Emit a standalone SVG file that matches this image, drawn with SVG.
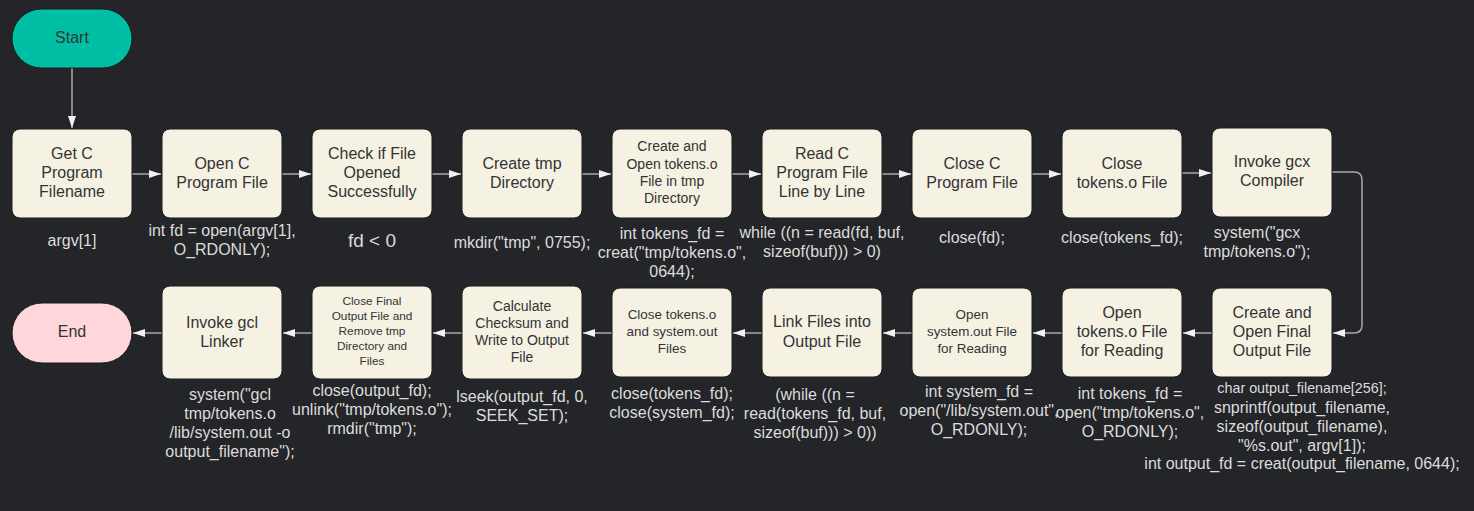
<svg xmlns="http://www.w3.org/2000/svg" width="1474" height="511" viewBox="0 0 1474 511">
<defs>
<marker id="arr" viewBox="0 0 12 8" refX="12" refY="4" markerWidth="12" markerHeight="8" markerUnits="userSpaceOnUse" orient="auto">
<path d="M0,0 L12,4 L0,8 Z" fill="#f2f2f2"/>
</marker>
<style>
text{font-family:"Liberation Sans",Arial,sans-serif;text-anchor:middle;dominant-baseline:central}
.box{fill:#f5f2e3;stroke:#1c1c1c;stroke-width:1}
.t{fill:#333333;font-size:16px}
.t14{fill:#333333;font-size:14px}
.t13{fill:#333333;font-size:13.4px}
.t12{fill:#333333;font-size:11.8px}
.lb{fill:#dcdcdc;font-size:16px}
.edge{fill:none;stroke:#a8a8a8;stroke-width:1.5;marker-end:url(#arr)}
</style>
</defs>
<rect width="1474" height="511" fill="#242528"/>

<g id="connectors">
<path class="edge" d="M72,68 V128"/>
<path class="edge" d="M132,174 H161"/>
<path class="edge" d="M282,174 H311"/>
<path class="edge" d="M432,174 H461"/>
<path class="edge" d="M582,174 H611"/>
<path class="edge" d="M732,174 H761"/>
<path class="edge" d="M882,174 H911"/>
<path class="edge" d="M1032,174 H1061"/>
<path class="edge" d="M1182,173 H1211"/>
<path class="edge" d="M1332,172 H1354 Q1362,172 1362,180 V325 Q1362,333 1354,333 H1333"/>
<path class="edge" d="M1212,333 H1183"/>
<path class="edge" d="M1062,333 H1033"/>
<path class="edge" d="M912,333 H883"/>
<path class="edge" d="M762,333 H733"/>
<path class="edge" d="M612,333 H583"/>
<path class="edge" d="M462,333 H433"/>
<path class="edge" d="M312,333 H283"/>
<path class="edge" d="M162,333 H133"/>
</g>

<g id="start">
<rect x="12" y="9" width="120" height="59" rx="29.5" fill="#00bfa5" stroke="#1c1c1c"/>
<text class="t" x="72" y="37">Start</text>
</g>

<g id="get-filename">
<rect class="box" x="12" y="129" width="120" height="89" rx="8"/>
<text class="t" x="72" y="153">Get C</text>
<text class="t" x="72" y="172">Program</text>
<text class="t" x="72" y="191">Filename</text>
<text class="lb" x="72" y="240">argv[1]</text>
</g>

<g id="open-c-file">
<rect class="box" x="162" y="129" width="120" height="89" rx="8"/>
<text class="t" x="222" y="163">Open C</text>
<text class="t" x="222" y="182">Program File</text>
<text class="lb" x="222" y="230">int fd = open(argv[1],</text>
<text class="lb" x="222" y="249">O_RDONLY);</text>
</g>

<g id="check-opened">
<rect class="box" x="312" y="129" width="120" height="89" rx="8"/>
<text class="t" x="372" y="153">Check if File</text>
<text class="t" x="372" y="172">Opened</text>
<text class="t" x="372" y="191">Successfully</text>
<text class="lb" x="372" y="240" style="font-size:19px">fd &lt; 0</text>
</g>

<g id="create-tmp">
<rect class="box" x="462" y="129" width="120" height="89" rx="8"/>
<text class="t" x="522" y="163">Create tmp</text>
<text class="t" x="522" y="182">Directory</text>
<text class="lb" x="522" y="242">mkdir("tmp", 0755);</text>
</g>

<g id="create-tokens">
<rect class="box" x="612" y="129" width="120" height="89" rx="8"/>
<text class="t14" x="672" y="146">Create and</text>
<text class="t14" x="672" y="164">Open tokens.o</text>
<text class="t14" x="672" y="181">File in tmp</text>
<text class="t14" x="672" y="198">Directory</text>
<text class="lb" x="672" y="233">int tokens_fd =</text>
<text class="lb" x="672" y="252">creat("tmp/tokens.o",</text>
<text class="lb" x="672" y="271">0644);</text>
</g>

<g id="read-c-file">
<rect class="box" x="762" y="129" width="120" height="89" rx="8"/>
<text class="t" x="822" y="153">Read C</text>
<text class="t" x="822" y="172">Program File</text>
<text class="t" x="822" y="191">Line by Line</text>
<text class="lb" x="822" y="232">while ((n = read(fd, buf,</text>
<text class="lb" x="822" y="251">sizeof(buf))) &gt; 0)</text>
</g>

<g id="close-c-file">
<rect class="box" x="912" y="129" width="120" height="89" rx="8"/>
<text class="t" x="972" y="163">Close C</text>
<text class="t" x="972" y="182">Program File</text>
<text class="lb" x="972" y="237">close(fd);</text>
</g>

<g id="close-tokens">
<rect class="box" x="1062" y="129" width="120" height="89" rx="8"/>
<text class="t" x="1122" y="163">Close</text>
<text class="t" x="1122" y="182">tokens.o File</text>
<text class="lb" x="1122" y="237">close(tokens_fd);</text>
</g>

<g id="invoke-gcx">
<rect class="box" x="1212" y="128" width="120" height="89" rx="8"/>
<text class="t" x="1272" y="161">Invoke gcx</text>
<text class="t" x="1272" y="180">Compiler</text>
<text class="lb" x="1257" y="232">system("gcx</text>
<text class="lb" x="1257" y="251">tmp/tokens.o");</text>
</g>

<g id="create-final">
<rect class="box" x="1212" y="288" width="120" height="89" rx="8"/>
<text class="t" x="1272" y="312">Create and</text>
<text class="t" x="1272" y="331">Open Final</text>
<text class="t" x="1272" y="350">Output File</text>
<text class="lb" x="1302" y="388" style="font-size:14.3px">char output_filename[256];</text>
<text class="lb" x="1302" y="407">snprintf(output_filename,</text>
<text class="lb" x="1302" y="426">sizeof(output_filename),</text>
<text class="lb" x="1302" y="445">"%s.out", argv[1]);</text>
<text class="lb" x="1302" y="463">int output_fd = creat(output_filename, 0644);</text>
</g>

<g id="open-tokens-read">
<rect class="box" x="1062" y="288" width="120" height="89" rx="8"/>
<text class="t" x="1122" y="312">Open</text>
<text class="t" x="1122" y="331">tokens.o File</text>
<text class="t" x="1122" y="350">for Reading</text>
<text class="lb" x="1130" y="393">int tokens_fd =</text>
<text class="lb" x="1130" y="412">open("tmp/tokens.o",</text>
<text class="lb" x="1130" y="431">O_RDONLY);</text>
</g>

<g id="open-system-read">
<rect class="box" x="912" y="288" width="120" height="89" rx="8"/>
<text class="t13" x="972" y="314">Open</text>
<text class="t13" x="972" y="331">system.out File</text>
<text class="t13" x="972" y="348">for Reading</text>
<text class="lb" x="979" y="391">int system_fd =</text>
<text class="lb" x="979" y="410">open("/lib/system.out",</text>
<text class="lb" x="979" y="429">O_RDONLY);</text>
</g>

<g id="link-files">
<rect class="box" x="762" y="288" width="120" height="89" rx="8"/>
<text class="t" x="822" y="321">Link Files into</text>
<text class="t" x="822" y="341">Output File</text>
<text class="lb" x="815" y="394">(while ((n =</text>
<text class="lb" x="815" y="413">read(tokens_fd, buf,</text>
<text class="lb" x="815" y="432">sizeof(buf))) &gt; 0))</text>
</g>

<g id="close-both">
<rect class="box" x="612" y="288" width="120" height="89" rx="8"/>
<text class="t13" x="672" y="314">Close tokens.o</text>
<text class="t13" x="672" y="331">and system.out</text>
<text class="t13" x="672" y="348">Files</text>
<text class="lb" x="672" y="393">close(tokens_fd);</text>
<text class="lb" x="672" y="412">close(system_fd);</text>
</g>

<g id="checksum">
<rect class="box" x="462" y="286" width="120" height="93" rx="8"/>
<text class="t14" x="522" y="306">Calculate</text>
<text class="t14" x="522" y="323">Checksum and</text>
<text class="t14" x="522" y="340">Write to Output</text>
<text class="t14" x="522" y="357">File</text>
<text class="lb" x="522" y="396">lseek(output_fd, 0,</text>
<text class="lb" x="522" y="415">SEEK_SET);</text>
</g>

<g id="close-final">
<rect class="box" x="312" y="286" width="120" height="93" rx="8"/>
<text class="t12" x="372" y="301">Close Final</text>
<text class="t12" x="372" y="316">Output File and</text>
<text class="t12" x="372" y="331">Remove tmp</text>
<text class="t12" x="372" y="346">Directory and</text>
<text class="t12" x="372" y="361">Files</text>
<text class="lb" x="372" y="390">close(output_fd);</text>
<text class="lb" x="372" y="409">unlink("tmp/tokens.o");</text>
<text class="lb" x="372" y="428">rmdir("tmp");</text>
</g>

<g id="invoke-gcl">
<rect class="box" x="162" y="286" width="120" height="93" rx="8"/>
<text class="t" x="222" y="322">Invoke gcl</text>
<text class="t" x="222" y="341">Linker</text>
<text class="lb" x="230" y="394">system("gcl</text>
<text class="lb" x="230" y="413">tmp/tokens.o</text>
<text class="lb" x="230" y="432">/lib/system.out -o</text>
<text class="lb" x="230" y="451">output_filename");</text>
</g>

<g id="end">
<rect x="12" y="303" width="120" height="60" rx="30" fill="#ffd6d9" stroke="#1c1c1c"/>
<text class="t" x="72" y="331">End</text>
</g>
</svg>
